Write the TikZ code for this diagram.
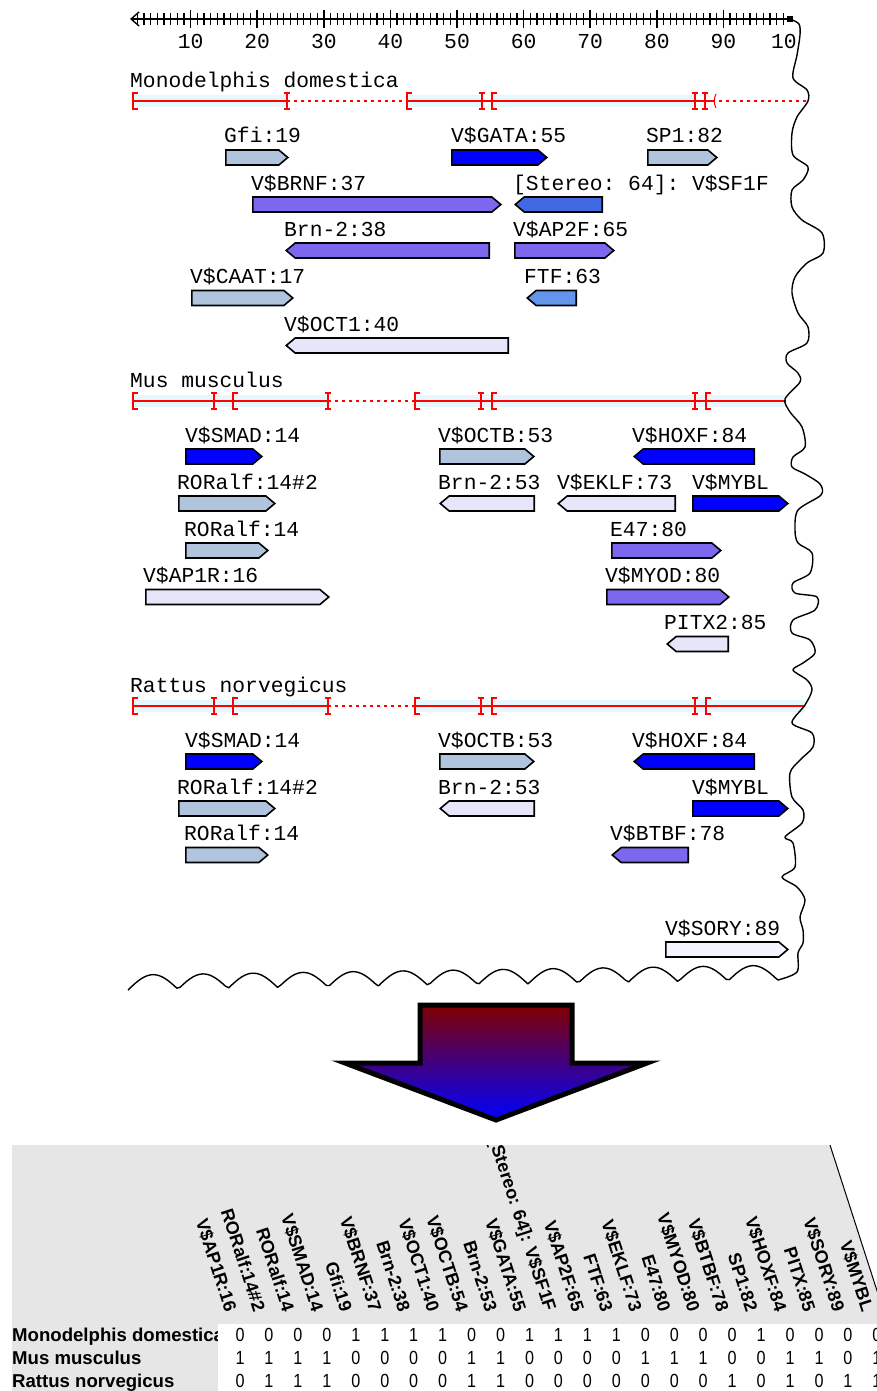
\documentclass[tikz,border=0pt]{standalone}
\usepackage{fontspec}
\setmainfont{Liberation Sans}
\setmonofont{Liberation Mono}
\newfontfamily\narrowsans[FakeStretch=0.85]{Liberation Sans}
\usepackage{tikz}
\usetikzlibrary{arrows.meta,shapes.symbols,positioning}

\definecolor{lsblue}{HTML}{B0C4DE}
\definecolor{msblue}{HTML}{7B68EE}
\definecolor{rblue}{HTML}{4169E1}
\definecolor{cfblue}{HTML}{6495ED}
\definecolor{lavend}{HTML}{E6E6FA}
\definecolor{ghost}{HTML}{F2F5FF}
\definecolor{panel}{HTML}{E6E6E6}
\definecolor{darkred}{HTML}{800000}

\newcommand{\seqfont}{\fontsize{21.3}{24}\selectfont\ttfamily}
% exon start / end marks
\newcommand{\exstart}[2]{\draw[exmark] (#1+5,#2-8) -- (#1,#2-8) -- (#1,#2+8) -- (#1+5,#2+8);}
\newcommand{\exend}[2]{\draw[exmark] (#1,#2-8) -- (#1,#2+8) (#1-3,#2-8) -- (#1+3,#2-8) (#1-3,#2+8) -- (#1+3,#2+8);}

\begin{document}
\begin{tikzpicture}
    [
        x=1pt, y=-1pt,
        seqlab/.style={font=\seqfont, anchor=base west, inner sep=0},
        tf/.style={signal, draw, line width=1.6pt, minimum height=15, inner sep=0, anchor=west, signal pointer angle=80},
        tfr/.style={tf, signal to=east},
        tfl/.style={tf, signal to=west},
        exon/.style={red, line width=1.6pt},
        intron/.style={red, line width=1.6pt, dash pattern=on 3pt off 4pt},
        exmark/.style={red, line width=1.8pt},
        band/.style={fill=cyan!10},
        edge/.style={line width=1.4pt, line join=round},
        rowlab/.style={font=\fontsize{18.6}{20}\selectfont\bfseries, anchor=base west, inner sep=0},
        cell/.style={font=\narrowsans\fontsize{19}{20}\selectfont, anchor=base, inner sep=0},
        colhead/.style={font=\fontsize{18}{20}\selectfont\bfseries, anchor=east, rotate=-72, inner sep=0},
    ]
    \useasboundingbox (0,0) rectangle (877,1391);

    % ruler
    \draw[line width=1.4pt, {Straight Barb[length=8pt,width=14pt]}-] (130,19) -- (790,19);
    \foreach \p in {2,...,99}
        \draw[line width=1.2pt] ({124+6.66*\p},13) -- ({124+6.66*\p},25);
    \foreach \p in {10,20,...,90} {
        \draw[line width=1.5pt] ({124+6.66*\p},10) -- ({124+6.66*\p},28);
        \node[seqlab, anchor=base] (n\p) at ({124+6.66*\p},49) {\p};
    }
    \node[seqlab] (n100) at (771,49) {10};
    \fill (787,16) rectangle (793,22);

    % Monodelphis domestica
    \node[seqlab] (mdom) at (130,88) {Monodelphis domestica};
    \fill[band] (133,95) rectangle (287,107) (407,95) rectangle (482,107) (492,95) rectangle (695,107);
    \draw[exon] (133,101) -- (287,101) (407,101) -- (712,101);
    \draw[intron] (287,101) -- (407,101) (712,101) -- (808,101);
    \exstart{133}{101} \exend{287}{101} \exstart{407}{101} \exend{482}{101}
    \exstart{492}{101} \exend{695}{101} \exend{705}{101}
    \draw[red, line width=1pt] (716,94) to[bend right=25] (716,108);

    \node[tfr, fill=lsblue, minimum width=62] (gfi) at (225,157.5) {};
    \node[seqlab] (gfiL) at (224,143) {Gfi:19};
    \node[tfr, fill=blue, minimum width=95] (gata) at (451,157.5) {};
    \node[seqlab] (gataL) at (451,143) {V\$GATA:55};
    \node[tfr, fill=lsblue, minimum width=69] (sp1) at (647,157.5) {};
    \node[seqlab] (sp1L) at (646,143) {SP1:82};
    \node[tfr, fill=msblue, minimum width=248] (brnf) at (252,204.5) {};
    \node[seqlab] (brnfL) at (251,190) {V\$BRNF:37};
    \node[tfl, fill=rblue, minimum width=87] (sf1f) at (514,204.5) {};
    \node[seqlab] (sf1fL) at (513,190) {[Stereo: 64]: V\$SF1F};
    \node[tfl, fill=msblue, minimum width=203] (brn38) at (285,250.5) {};
    \node[seqlab] (brn38L) at (284,236) {Brn-2:38};
    \node[tfr, fill=msblue, minimum width=99] (ap2f) at (514,250.5) {};
    \node[seqlab] (ap2fL) at (513,236) {V\$AP2F:65};
    \node[tfr, fill=lsblue, minimum width=101] (caat) at (191,298) {};
    \node[seqlab] (caatL) at (190,283.5) {V\$CAAT:17};
    \node[tfl, fill=cfblue, minimum width=49] (ftf) at (526,298) {};
    \node[seqlab] (ftfL) at (524,283.5) {FTF:63};
    \node[tfl, fill=lavend, minimum width=222] (oct1) at (285,345.5) {};
    \node[seqlab] (oct1L) at (284,331) {V\$OCT1:40};

    % Mus musculus
    \node[seqlab] (mmus) at (130,387) {Mus musculus};
    \fill[band] (133,395) rectangle (328,407) (415,395) rectangle (786,407);
    \draw[exon] (133,401) -- (328,401) (415,401) -- (786,401);
    \draw[intron] (328,401) -- (415,401);
    \exstart{133}{401} \exend{214}{401} \exstart{233}{401} \exend{328}{401}
    \exstart{415}{401} \exend{481}{401} \exstart{492}{401} \exend{695}{401} \exstart{706}{401}

    \node[tfr, fill=blue, minimum width=76] (msmad) at (185,456.5) {};
    \node[seqlab] (msmadL) at (185,442) {V\$SMAD:14};
    \node[tfr, fill=lsblue, minimum width=94] (moctb) at (439,456.5) {};
    \node[seqlab] (moctbL) at (438,442) {V\$OCTB:53};
    \node[tfl, fill=blue, minimum width=120] (mhoxf) at (633,456.5) {};
    \node[seqlab] (mhoxfL) at (632,442) {V\$HOXF:84};
    \node[tfr, fill=lsblue, minimum width=96] (mror2) at (178,503.5) {};
    \node[seqlab] (mror2L) at (177,489) {RORalf:14\#2};
    \node[tfl, fill=lavend, minimum width=94] (mbrn) at (439,503.5) {};
    \node[seqlab] (mbrnL) at (438,489) {Brn-2:53};
    \node[tfl, fill=lavend, minimum width=117] (meklf) at (557,503.5) {};
    \node[seqlab] (meklfL) at (557,489) {V\$EKLF:73};
    \node[tfr, fill=blue, minimum width=95] (mmybl) at (692,503.5) {};
    \node[seqlab] (mmyblL) at (692,489) {V\$MYBL};
    \node[tfr, fill=lsblue, minimum width=82] (mror) at (185,550.5) {};
    \node[seqlab] (mrorL) at (184,536) {RORalf:14};
    \node[tfr, fill=msblue, minimum width=109] (me47) at (611,550.5) {};
    \node[seqlab] (me47L) at (610,536) {E47:80};
    \node[tfr, fill=lavend, minimum width=183] (map1r) at (145,597) {};
    \node[seqlab] (map1rL) at (143,582.5) {V\$AP1R:16};
    \node[tfr, fill=msblue, minimum width=122] (mmyod) at (606,597) {};
    \node[seqlab] (mmyodL) at (605,582.5) {V\$MYOD:80};
    \node[tfl, fill=lavend, minimum width=61] (mpitx) at (666,644) {};
    \node[seqlab] (mpitxL) at (664,629.5) {PITX2:85};

    % Rattus norvegicus
    \node[seqlab] (rnor) at (130,692) {Rattus norvegicus};
    \fill[band] (133,700) rectangle (328,712) (415,700) rectangle (805,712);
    \draw[exon] (133,706) -- (328,706) (415,706) -- (805,706);
    \draw[intron] (328,706) -- (415,706);
    \exstart{133}{706} \exend{214}{706} \exstart{233}{706} \exend{328}{706}
    \exstart{415}{706} \exend{481}{706} \exstart{492}{706} \exend{695}{706} \exstart{706}{706}

    \node[tfr, fill=blue, minimum width=76] (rsmad) at (185,761.5) {};
    \node[seqlab] (rsmadL) at (185,747) {V\$SMAD:14};
    \node[tfr, fill=lsblue, minimum width=94] (roctb) at (439,761.5) {};
    \node[seqlab] (roctbL) at (438,747) {V\$OCTB:53};
    \node[tfl, fill=blue, minimum width=120] (rhoxf) at (633,761.5) {};
    \node[seqlab] (rhoxfL) at (632,747) {V\$HOXF:84};
    \node[tfr, fill=lsblue, minimum width=96] (rror2) at (178,808.5) {};
    \node[seqlab] (rror2L) at (177,794) {RORalf:14\#2};
    \node[tfl, fill=lavend, minimum width=94] (rbrn) at (439,808.5) {};
    \node[seqlab] (rbrnL) at (438,794) {Brn-2:53};
    \node[tfr, fill=blue, minimum width=95] (rmybl) at (692,808.5) {};
    \node[seqlab] (rmyblL) at (692,794) {V\$MYBL};
    \node[tfr, fill=lsblue, minimum width=82] (rror) at (185,855) {};
    \node[seqlab] (rrorL) at (184,840.5) {RORalf:14};
    \node[tfl, fill=msblue, minimum width=76] (rbtbf) at (611,855) {};
    \node[seqlab] (rbtbfL) at (610,840.5) {V\$BTBF:78};
    \node[tfr, fill=ghost, minimum width=122] (rsory) at (665,949.5) {};
    \node[seqlab] (rsoryL) at (665,935) {V\$SORY:89};

    % torn edge
    \draw[edge] plot[smooth, tension=0.5] coordinates {(790,19) (799,24) (800,35) (797,55) (793,78) (807,90)
        (808,101) (797,117) (792,133) (793,155) (808,167) (803,180) (792,190) (792,207) (802,220)
        (822,233) (823,253) (807,263) (795,277) (792,293) (798,313) (808,327) (807,343) (788,353)
        (787,363) (798,373) (800,382) (785,399) (790,412) (802,427) (805,447) (793,457) (792,467)
        (805,474) (820,484) (821,495) (798,510) (795,530) (798,543) (812,553) (810,573) (793,583)
        (795,593) (817,597) (815,610) (793,620) (792,633) (810,640) (815,653) (803,663) (793,670)
        (807,680) (812,690) (805,705) (792,723) (812,733) (813,747) (800,760) (790,773) (792,797)
        (803,810) (802,823) (785,837) (793,843) (795,867) (782,877) (797,887) (805,900) (800,917)
        (803,930) (803,943) (798,953) (797,972) (778,980)}
        -- plot[domain=775:128, samples=200] (\x, {990-0.015*(\x-128)-15*abs(sin(3.6*(\x-128)))});

    % big arrow
    \shadedraw[top color=darkred, bottom color=blue, line width=5pt, line join=miter]
        (420,1005) -- (572,1005) -- (572,1063) -- (647,1063) -- (496,1120) -- (345,1063) -- (420,1063) -- cycle;

    % summary table
    \begin{scope}
        \clip (0,0) rectangle (877,1391);
        \fill[panel] (12,1145) -- (830,1145) -- (877,1292) -- (877,1391) -- (12,1391) -- cycle;
        \draw[line width=1pt] (830,1145) -- (880,1300);
        \node[rowlab] (rmd) at (12,1341) {Monodelphis domestica};
        \node[rowlab] (rmm) at (12,1364) {Mus musculus};
        \node[rowlab] (rrn) at (12,1387) {Rattus norvegicus};
        \fill[white] (218,1324) rectangle (877,1391);
        \foreach \d [count=\i from 0] in {0,0,0,0,1,1,1,1,0,0,1,1,1,1,0,0,0,0,1,0,0,0,0}
            \node[cell] (md\i) at ({240+28.95*\i},1341) {\d};
        \foreach \d [count=\i from 0] in {1,1,1,1,0,0,0,0,1,1,0,0,0,0,1,1,1,0,0,1,1,0,1}
            \node[cell] (mm\i) at ({240+28.95*\i},1364) {\d};
        \foreach \d [count=\i from 0] in {0,1,1,1,0,0,0,0,1,1,0,0,0,0,0,0,0,1,0,1,0,1,1}
            \node[cell] (rn\i) at ({240+28.95*\i},1387) {\d};
        \begin{scope}
            \clip (12,1145) rectangle (877,1324);
            \foreach \h [count=\i from 0] in {V\$AP1R:16, RORalf:14\#2, RORalf:14, V\$SMAD:14, Gfi:19,
                V\$BRNF:37, Brn-2:38, V\$OCT1:40, V\$OCTB:54, Brn-2:53, V\$GATA:55, {[Stereo: 64]: V\$SF1F},
                V\$AP2F:65, FTF:63, V\$EKLF:73, E47:80, V\$MYOD:80, V\$BTBF:78, SP1:82, V\$HOXF:84,
                PITX:85, V\$SORY:89, V\$MYBL}
                \node[colhead] (h\i) at ({231+28.95*\i},1311) {\h};
        \end{scope}
    \end{scope}
\end{tikzpicture}
\end{document}
